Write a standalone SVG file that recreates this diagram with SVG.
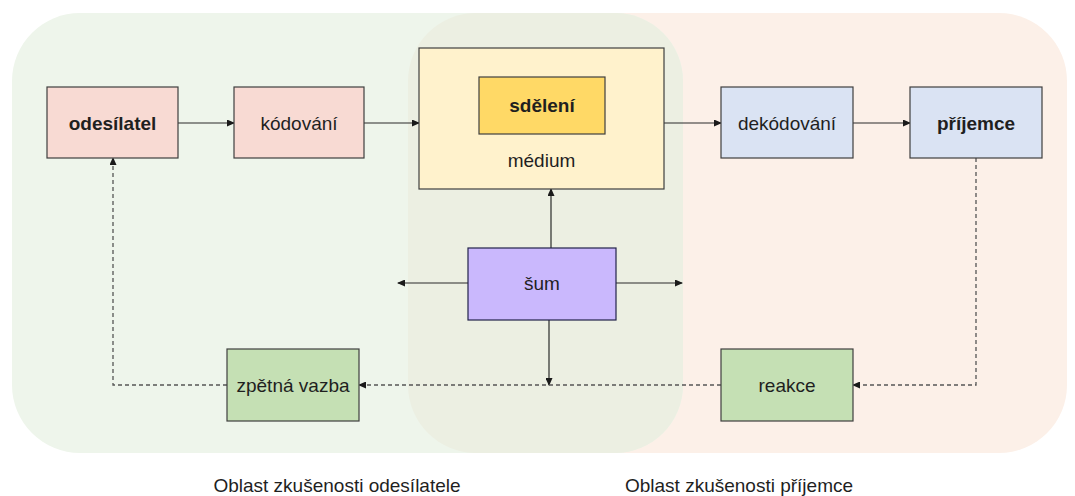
<svg xmlns="http://www.w3.org/2000/svg" width="1075" height="496" viewBox="0 0 1075 496">
  <defs>
    <marker id="arrow" markerWidth="8" markerHeight="7" refX="7" refY="3.5" orient="auto" markerUnits="userSpaceOnUse">
      <path d="M0,0 L8,3.5 L0,7 Z" fill="#1a1a1a"/>
    </marker>
    <clipPath id="receiverClip">
      <rect x="408" y="13" width="659" height="440" rx="68" ry="68"/>
    </clipPath>
    <style>
      .box { stroke: #3f3f3f; stroke-width: 1.2; }
      .lbl { font-family: "Liberation Sans", Arial, sans-serif; font-size: 19px; fill: #1f1f1f; text-anchor: middle; }
      .bold { font-weight: bold; }
      .solid { stroke: #2b2b2b; stroke-width: 1.2; fill: none; }
      .dash { stroke: #555555; stroke-width: 1.3; fill: none; stroke-dasharray: 4 3; }
      .area { font-family: "Liberation Sans", Arial, sans-serif; font-size: 19px; fill: #1f1f1f; text-anchor: middle; }
    </style>
  </defs>

  <rect width="1075" height="496" fill="#ffffff"/>

  <!-- experience areas -->
  <g id="areas">
    <rect x="408" y="13" width="659" height="440" rx="68" ry="68" fill="#fcf0e8"/>
    <rect x="12" y="13" width="671" height="440" rx="68" ry="68" fill="#eef5eb"/>
    <rect x="12" y="13" width="671" height="440" rx="68" ry="68" fill="#ecefe2" clip-path="url(#receiverClip)"/>
  </g>

  <!-- connectors -->
  <g id="connectors">
    <line class="solid" x1="178" y1="123" x2="234" y2="123" marker-end="url(#arrow)"/>
    <line class="solid" x1="364" y1="123" x2="419" y2="123" marker-end="url(#arrow)"/>
    <line class="solid" x1="664" y1="123" x2="721" y2="123" marker-end="url(#arrow)"/>
    <line class="solid" x1="853" y1="123" x2="910" y2="123" marker-end="url(#arrow)"/>
    <line class="solid" x1="551" y1="248" x2="551" y2="189" marker-end="url(#arrow)"/>
    <line class="solid" x1="468" y1="283" x2="398" y2="283" marker-end="url(#arrow)"/>
    <line class="solid" x1="616" y1="283" x2="682" y2="283" marker-end="url(#arrow)"/>
    <line class="solid" x1="549" y1="320" x2="549" y2="385" marker-end="url(#arrow)"/>
    <polyline class="dash" points="976,158 976,385 853,385" marker-end="url(#arrow)"/>
    <line class="dash" x1="721" y1="385" x2="359" y2="385" marker-end="url(#arrow)"/>
    <polyline class="dash" points="227,385 113,385 113,158" marker-end="url(#arrow)"/>
  </g>

  <!-- nodes -->
  <g id="odesilatel">
    <rect class="box" x="47" y="87" width="131" height="71" fill="#f8dad3"/>
    <text class="lbl bold" x="112.5" y="130">odesílatel</text>
  </g>
  <g id="kodovani">
    <rect class="box" x="234" y="87" width="130" height="71" fill="#f8dad3"/>
    <text class="lbl" x="299" y="130">kódování</text>
  </g>
  <g id="medium">
    <rect class="box" x="419" y="48" width="245" height="141" fill="#fff2cc"/>
    <text class="lbl" x="541.5" y="167">médium</text>
  </g>
  <g id="sdeleni">
    <rect class="box" x="479" y="77" width="126" height="57" fill="#ffd966"/>
    <text class="lbl bold" x="542" y="112">sdělení</text>
  </g>
  <g id="dekodovani">
    <rect class="box" x="721" y="87" width="132" height="71" fill="#dae3f3"/>
    <text class="lbl" x="787" y="130">dekódování</text>
  </g>
  <g id="prijemce">
    <rect class="box" x="910" y="87" width="132" height="71" fill="#dae3f3"/>
    <text class="lbl bold" x="976" y="130">příjemce</text>
  </g>
  <g id="sum">
    <rect x="468" y="248" width="148" height="72" fill="#cab8fd" stroke="#22224a" stroke-width="1.2"/>
    <text class="lbl" x="542" y="290">šum</text>
  </g>
  <g id="zpetna-vazba">
    <rect class="box" x="227" y="349" width="132" height="72" fill="#c5e0b4"/>
    <text class="lbl" x="293" y="392">zpětná vazba</text>
  </g>
  <g id="reakce">
    <rect class="box" x="721" y="349" width="132" height="72" fill="#c5e0b4"/>
    <text class="lbl" x="787" y="392">reakce</text>
  </g>

  <!-- area captions -->
  <g id="captions">
    <text class="area" x="337" y="492">Oblast zkušenosti odesílatele</text>
    <text class="area" x="739" y="492">Oblast zkušenosti příjemce</text>
  </g>
</svg>
